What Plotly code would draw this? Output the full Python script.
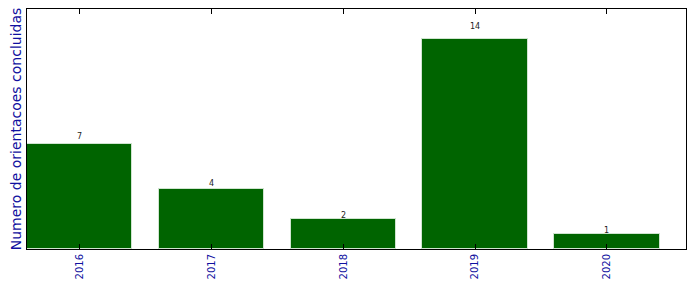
import plotly.graph_objects as go

years = ["2016", "2017", "2018", "2019", "2020"]
values = [7, 4, 2, 14, 1]
label_pos = [v * 1.05 for v in values]

fig = go.Figure()
fig.add_trace(go.Bar(
    x=list(range(len(years))), y=values, width=0.8,
    marker=dict(color="#006400", line=dict(color="#d0e4d0", width=1)),
    showlegend=False, hoverinfo="skip",
))
for i, (v, p) in enumerate(zip(values, label_pos)):
    fig.add_annotation(
        x=i, y=p, text=str(v), showarrow=False, yanchor="bottom", xanchor="center",
        font=dict(family="DejaVu Sans", size=8, color="#222222"), yshift=-4,
    )
fig.update_layout(
    width=696, height=292,
    margin=dict(l=27, r=10, t=9, b=43),
    paper_bgcolor="white", plot_bgcolor="white",
    font=dict(family="DejaVu Sans"),
    bargap=0,
)
fig.update_xaxes(
    range=[-0.4, 4.6], tickmode="array", tickvals=list(range(len(years))),
    ticktext=years, tickangle=-90, ticks="inside", ticklen=5, tickcolor="black",
    tickfont=dict(size=10, color="#1010a0"),
    showline=True, linecolor="black", linewidth=1, mirror="ticks",
    showgrid=False, zeroline=False,
)
fig.update_yaxes(
    range=[0, 16], showticklabels=False, ticks="",
    showline=True, linecolor="black", linewidth=1, mirror=True,
    showgrid=False, zeroline=False,
    title=dict(text="Numero de orientacoes concluidas", standoff=1,
               font=dict(size=14, color="#1010a0")),
)
fig.write_html("out.html")
